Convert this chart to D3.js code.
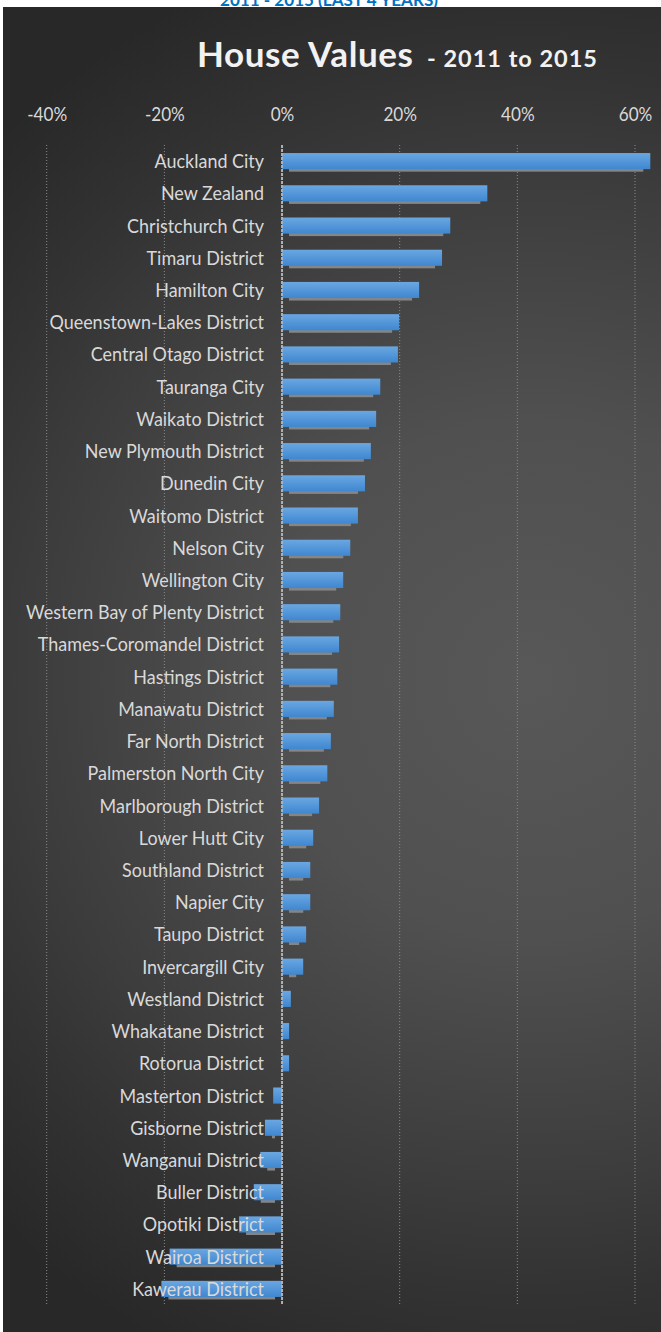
<!DOCTYPE html>
<html>
<head>
<meta charset="utf-8">
<script src="https://cdn.jsdelivr.net/npm/d3@7"></script>
<style>
  html, body { margin: 0; padding: 0; background: #ffffff; }
  svg { display: block; }
  text { font-family: Lato, "Open Sans", sans-serif; }
</style>
</head>
<body>
<svg id="chart" width="661" height="1332"></svg>
<script>
// Change in house values by territorial authority, 2011 to 2015 (%)
const categories = [
  "Auckland City", "New Zealand", "Christchurch City", "Timaru District",
  "Hamilton City", "Queenstown-Lakes District", "Central Otago District",
  "Tauranga City", "Waikato District", "New Plymouth District", "Dunedin City",
  "Waitomo District", "Nelson City", "Wellington City",
  "Western Bay of Plenty District", "Thames-Coromandel District",
  "Hastings District", "Manawatu District", "Far North District",
  "Palmerston North City", "Marlborough District", "Lower Hutt City",
  "Southland District", "Napier City", "Taupo District", "Invercargill City",
  "Westland District", "Whakatane District", "Rotorua District",
  "Masterton District", "Gisborne District", "Wanganui District",
  "Buller District", "Opotiki District", "Wairoa District", "Kawerau District"
];
const values = [
  62.6, 34.9, 28.6, 27.2,
  23.3, 19.9, 19.7,
  16.7, 16.0, 15.1, 14.1,
  12.9, 11.6, 10.4,
  9.9, 9.7,
  9.4, 8.8, 8.3,
  7.7, 6.3, 5.3,
  4.8, 4.8, 4.1, 3.6,
  1.5, 1.2, 1.2,
  -1.5, -2.9, -3.7,
  -4.8, -7.3, -19.1, -20.5
];
const tickValues = [-40, -20, 0, 20, 40, 60];
const titleMain = "House Values";
const titleSub = "- 2011 to 2015";
const headerText = "2011 - 2015 (LAST 4 YEARS)";

const rows = categories.map((c, i) => ({ name: c, value: values[i] }));

const svg = d3.select("#chart");
const defs = svg.append("defs");

// panel background: soft radial light, darker towards the edges
const bg = defs.append("radialGradient")
  .attr("id", "bgGrad")
  .attr("gradientUnits", "userSpaceOnUse")
  .attr("cx", 530).attr("cy", 680).attr("r", 760);
[[0, "#585858"], [0.34, "#505050"], [0.67, "#3c3c3c"], [0.8, "#333333"], [1, "#282828"]]
  .forEach(([o, c]) => bg.append("stop").attr("offset", o).attr("stop-color", c));

const barGrad = defs.append("linearGradient")
  .attr("id", "barGrad").attr("x1", 0).attr("y1", 0).attr("x2", 0).attr("y2", 1);
barGrad.append("stop").attr("offset", 0).attr("stop-color", "#6aa7e2");
barGrad.append("stop").attr("offset", 1).attr("stop-color", "#3f87d0");

defs.append("filter").attr("id", "soft")
  .append("feGaussianBlur").attr("stdDeviation", 0.7);

// header line above the panel (its lower part shows above the dark panel)
const header = svg.append("text")
  .attr("x", 329).attr("y", 6)
  .attr("text-anchor", "middle")
  .attr("fill", "#0070c0")
  .attr("font-weight", 700)
  .attr("font-size", 17)
  .text(headerText);
header.attr("textLength", 218).attr("lengthAdjust", "spacingAndGlyphs");

svg.append("rect")
  .attr("x", 3).attr("y", 7)
  .attr("width", 658).attr("height", 1325)
  .attr("fill", "url(#bgGrad)");

// scales
const x = d3.scaleLinear().domain([-40, 60]).range([46.7, 635]);
const y = d3.scaleBand()
  .domain(categories)
  .range([145, 1305])
  .paddingInner(0.5)
  .paddingOuter(0.25);

// title
const t1 = svg.append("text")
  .attr("x", 197).attr("y", 67)
  .attr("fill", "#f2f2f2")
  .attr("font-weight", 700)
  .attr("font-size", 35)
  .text(titleMain);
t1.attr("textLength", 216).attr("lengthAdjust", "spacing");
const t2 = svg.append("text")
  .attr("x", 427).attr("y", 67)
  .attr("fill", "#f2f2f2")
  .attr("font-weight", 700)
  .attr("font-size", 23.5)
  .text(titleSub);
t2.attr("textLength", 170).attr("lengthAdjust", "spacing");

// vertical gridlines
svg.append("g")
  .selectAll("line")
  .data(tickValues.filter(d => d !== 0))
  .join("line")
  .attr("x1", d => x(d)).attr("x2", d => x(d))
  .attr("y1", 145).attr("y2", 1305)
  .attr("stroke", "#8a8a8a")
  .attr("stroke-width", 1)
  .attr("stroke-dasharray", "1,2");

// top value axis
const xAxis = svg.append("g")
  .attr("transform", "translate(0,121)")
  .call(d3.axisTop(x).tickValues(tickValues).tickSize(0).tickPadding(0)
    .tickFormat(d => d + "%"));
xAxis.select(".domain").remove();
xAxis.selectAll("text")
  .attr("fill", "#d9d9d9")
  .attr("font-size", 20)
  .attr("font-family", "Lato, sans-serif")
  .attr("dy", 0);
{
  let w = 0;
  xAxis.selectAll("text").each(function(d) { if (d === -40) w = this.getComputedTextLength(); });
  const sx = w ? 40 / w : 1;
  xAxis.selectAll("text").attr("transform", `scale(${sx},1)`);
}

// bar shadows
svg.append("g")
  .selectAll("rect")
  .data(rows.filter(d => Math.abs(x(d.value) - x(0)) > 16))
  .join("rect")
  .attr("x", d => Math.min(x(0), x(d.value)) + 7)
  .attr("y", d => y(d.name) + 2.5)
  .attr("width", d => Math.abs(x(d.value) - x(0)) - 14)
  .attr("height", y.bandwidth())
  .attr("fill", "#858585")
  .attr("filter", "url(#soft)");

// bars
svg.append("g")
  .selectAll("rect")
  .data(rows)
  .join("rect")
  .attr("x", d => Math.min(x(0), x(d.value)))
  .attr("y", d => y(d.name))
  .attr("width", d => Math.abs(x(d.value) - x(0)))
  .attr("height", y.bandwidth())
  .attr("fill", "url(#barGrad)");

// zero line
svg.append("line")
  .attr("x1", x(0)).attr("x2", x(0))
  .attr("y1", 145).attr("y2", 1305)
  .attr("stroke", "#b0b0b0")
  .attr("stroke-width", 2)
  .attr("stroke-dasharray", "3,1");

// category labels
const yAxis = svg.append("g")
  .attr("transform", `translate(${x(0)},0)`)
  .call(d3.axisLeft(y).tickSize(0).tickPadding(18));
yAxis.select(".domain").remove();
yAxis.selectAll("text")
  .attr("fill", "#d9d9d9")
  .attr("font-size", 19.5)
  .attr("font-family", "Lato, sans-serif")
  .attr("x", 0)
  .attr("dy", "0.36em");
{
  let w = 0;
  yAxis.selectAll("text").each(function(d) {
    if (d === "Western Bay of Plenty District") w = this.getComputedTextLength();
  });
  const sx = w ? 238 / w : 1;
  yAxis.selectAll("text").attr("transform", `translate(-18,0) scale(${sx},1)`);
}
</script>
</body>
</html>
